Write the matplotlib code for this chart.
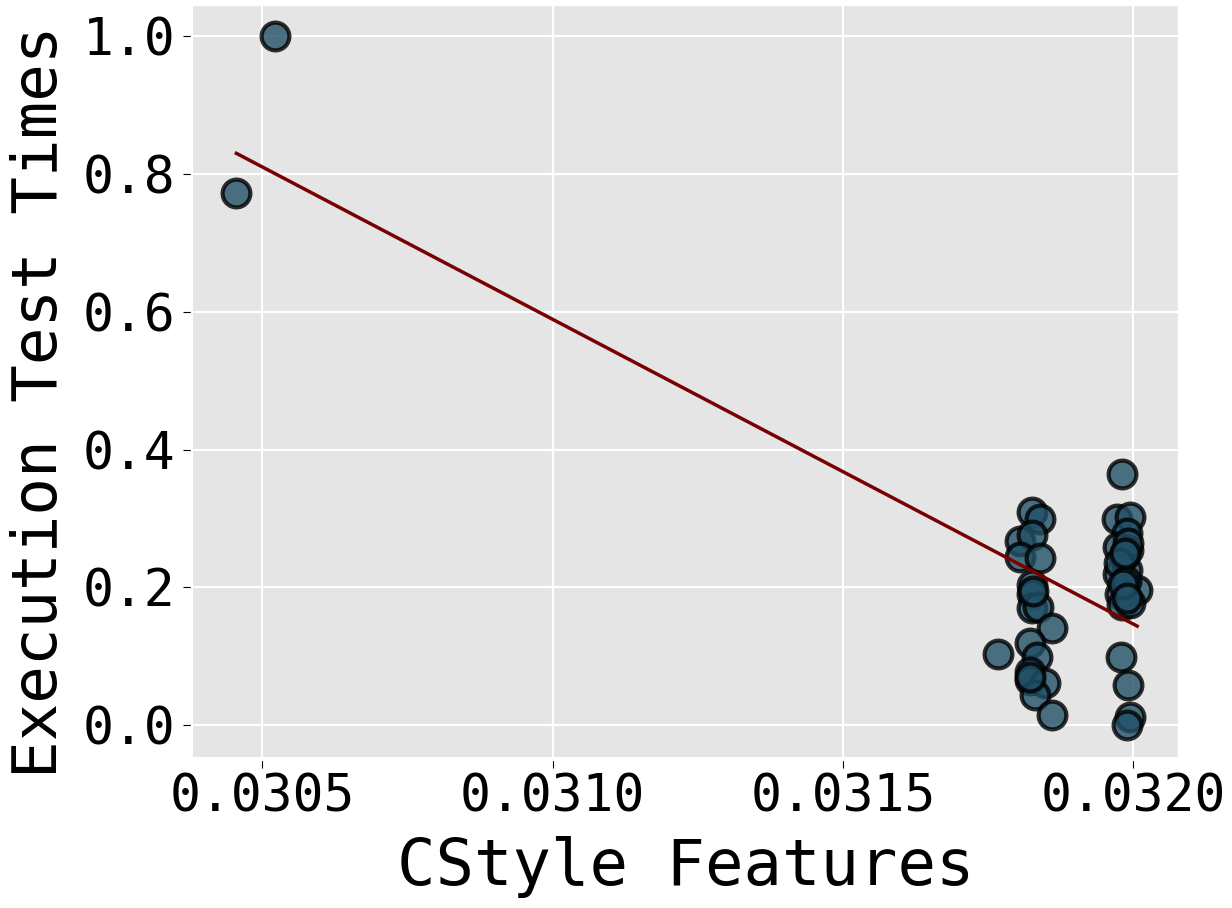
import numpy as np
import matplotlib.pyplot as plt

plt.style.use('ggplot')
plt.rcParams['font.family'] = ['DejaVu Sans Mono']

# CStyle feature values
x_vals = [0.030455, 0.030522,
          0.031826, 0.031840, 0.031805, 0.031826, 0.031805, 0.031840, 0.031826,
          0.031826, 0.031826, 0.031836, 0.031861, 0.031768, 0.031823, 0.031835,
          0.031823, 0.031823, 0.031849, 0.031831, 0.031861, 0.031828, 0.031823,
          0.031981, 0.031972, 0.031995, 0.031990, 0.031974, 0.031991, 0.031974,
          0.031990, 0.032007, 0.031978, 0.031981, 0.031995, 0.031979, 0.031991,
          0.031995, 0.031990, 0.031985, 0.031992, 0.031976, 0.031988, 0.031983,
          0.031990, 0.031986]
# normalised execution test times
y_vals = [0.772, 1.000,
          0.309, 0.300, 0.268, 0.276, 0.244, 0.242, 0.203,
          0.190, 0.170, 0.171, 0.141, 0.104, 0.119, 0.099,
          0.077, 0.065, 0.061, 0.044, 0.015, 0.195, 0.070,
          0.364, 0.300, 0.302, 0.279, 0.258, 0.254, 0.220,
          0.225, 0.196, 0.190, 0.174, 0.177, 0.099, 0.058,
          0.012, 0.000, 0.245, 0.265, 0.235, 0.210, 0.205,
          0.185, 0.250]

x = np.array(x_vals)
y = np.array(y_vals)

fig = plt.figure(figsize=(12.32, 9.08), dpi=100)
ax = fig.add_axes([0.157, 0.166, 0.799, 0.8285])

ax.scatter(x, y, s=400, c='#215067', alpha=0.8, edgecolors='black', linewidths=3, zorder=3)

# linear fit
slope, intercept = np.polyfit(x, y, 1)
xs = np.array([x.min(), x.max()])
ax.plot(xs, slope * xs + intercept, color='#780000', linewidth=2.5, zorder=4)

ax.set_xlim(0.030381, 0.032077)
ax.set_ylim(-0.0464, 1.045)
ax.set_xticks([0.0305, 0.0310, 0.0315, 0.0320])
ax.set_xticklabels(['0.0305', '0.0310', '0.0315', '0.0320'])
ax.set_yticks([0.0, 0.2, 0.4, 0.6, 0.8, 1.0])
ax.set_yticklabels(['0.0', '0.2', '0.4', '0.6', '0.8', '1.0'])
ax.spines['left'].set_position(('outward', 2))
ax.spines['bottom'].set_position(('outward', 2))
ax.tick_params(axis='both', labelsize=37, colors='black', length=6)
ax.tick_params(axis='y', pad=5)
ax.tick_params(axis='x', pad=3)
ax.grid(True, color='white', linewidth=1.5)
ax.set_xlabel('CStyle Features', fontsize=46, color='black', labelpad=10)
ax.set_ylabel('Execution Test Times', fontsize=45, color='black')
ax.yaxis.set_label_coords(-0.125, 0.473)

fig.savefig('out.png', dpi=100)
